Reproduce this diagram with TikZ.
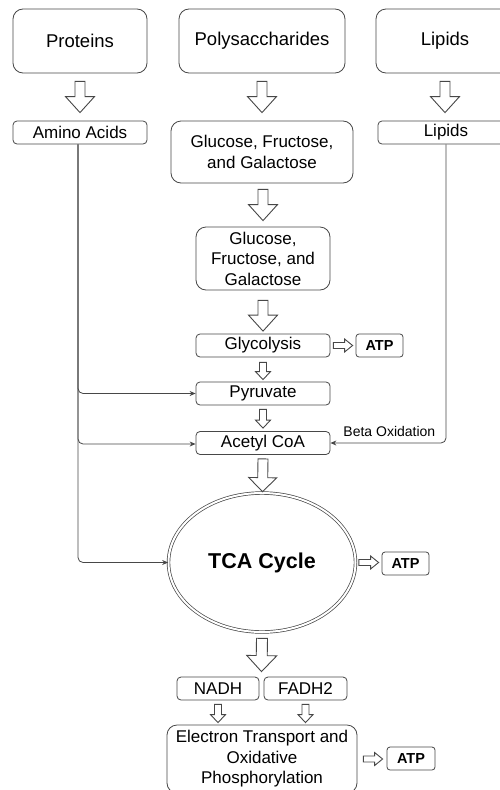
\documentclass[tikz,border=0pt]{standalone}
\usepackage{fontspec}
\setmainfont{Liberation Sans}
\usetikzlibrary{calc,arrows.meta,shapes.geometric}
\colorlet{linecol}{black!72}
\newcommand{\hollowarrow}[5]{%
  \path #1 coordinate (fa) #2 coordinate (fb);
  \coordinate (fh) at ($(fb)!#5!(fa)$);
  \draw[fatarrow] ($(fa)!#3!90:(fb)$) -- ($(fh)!#3!90:(fb)$) -- ($(fh)!#4!90:(fb)$) -- (fb)
    -- ($(fh)!#4!-90:(fb)$) -- ($(fh)!#3!-90:(fb)$) -- ($(fa)!#3!-90:(fb)$) -- cycle;}
\tikzset{
  base/.style={draw=linecol, line width=0.8pt, align=center, inner sep=0pt,
    font=\fontsize{17}{20.5}\selectfont},
  bigbox/.style={base, rounded corners=10pt},
  topbox/.style={bigbox, minimum height=64pt, font=\fontsize{18.5}{22}\selectfont},
  smallbox/.style={base, rounded corners=4pt, minimum height=23pt},
  atpbox/.style={base, rounded corners=3pt, minimum height=23pt, minimum width=47pt,
    font=\fontsize{14.5}{17}\selectfont\bfseries},
  fatarrow/.style={draw=linecol, line width=0.9pt, fill=white, line join=miter},
  conn/.style={draw=linecol, line width=0.8pt, rounded corners=5pt,
    -{Stealth[length=6pt,width=5pt]}},
}
\begin{document}
\begin{tikzpicture}[x=1pt,y=-1pt]
\useasboundingbox (0,0) rectangle (500,790);
\clip (0,0) rectangle (500,790);
% top row
\node[topbox, minimum width=134pt] (prot) at (80,41) {Proteins};
\node[topbox, minimum width=166pt] (poly) at (262,41) {Polysaccharides};
\node[topbox, minimum width=138pt] (lip1) at (445,41) {Lipids};
% second row
\node[smallbox, minimum width=134pt] (amino) at (80,132.5) {Amino Acids};
\node[bigbox, minimum width=182pt, minimum height=62pt] (glu1) at (262,152) {Glucose, Fructose,\\and Galactose};
\node[smallbox, minimum width=136pt] (lip2) at (446,132.5) {Lipids};
% central column
\node[bigbox, minimum width=134pt, minimum height=63pt] (glu2) at (263,258.5) {Glucose,\\Fructose, and\\Galactose};
\node[smallbox, minimum width=134pt] (gly) at (263,345.5) {Glycolysis};
\node[atpbox] (atp1) at (379.5,345.5) {ATP};
\node[smallbox, minimum width=134pt] (pyr) at (263,393.5) {Pyruvate};
\node[smallbox, minimum width=134pt] (acet) at (263,443) {Acetyl CoA};
\node[ellipse, draw=linecol, line width=0.7pt, double=white, double distance=2pt,
  minimum width=187pt, minimum height=139pt, inner sep=0pt,
  font=\fontsize{21.5}{25}\selectfont\bfseries] (tca) at (262,562.5) {TCA Cycle};
\node[atpbox] (atp2) at (405.5,563.5) {ATP};
\node[smallbox, minimum width=82pt] (nadh) at (218,688.5) {NADH};
\node[smallbox, minimum width=83pt] (fadh) at (305.5,688.5) {FADH2};
\node[bigbox, minimum width=190pt, minimum height=68pt] (etc) at (262,759) {Electron Transport and\\Oxidative\\Phosphorylation};
\node[atpbox, minimum width=48pt] (atp3) at (411,758.5) {ATP};
% hollow arrows (large)
\hollowarrow{([yshift=-8pt]prot.south)}{([yshift=8pt]amino.north)}{5pt}{14.5pt}{16pt}
\hollowarrow{([yshift=-8pt]poly.south)}{([yshift=8pt]glu1.north)}{5pt}{14.5pt}{16pt}
\hollowarrow{([yshift=-8pt]lip1.south)}{([yshift=8pt,xshift=-1pt]lip2.north)}{5pt}{14.5pt}{16pt}
\hollowarrow{([yshift=-6pt,xshift=1pt]glu1.south)}{([yshift=6pt]glu2.north)}{5pt}{14.5pt}{16pt}
\hollowarrow{([yshift=-10pt]glu2.south)}{([yshift=2.5pt]gly.north)}{5pt}{14.5pt}{16pt}
\hollowarrow{([yshift=-4pt]acet.south)}{([yshift=1pt,xshift=0.5pt]tca.north)}{5pt}{14pt}{14pt}
\hollowarrow{([yshift=-6pt]tca.south)}{($(nadh.north east)!0.5!(fadh.north west)+(0,-5)$)}{5.5pt}{15pt}{16pt}
% hollow arrows (small, down)
\hollowarrow{([yshift=-5pt]gly.south)}{([yshift=2pt]pyr.north)}{3.5pt}{7.5pt}{8pt}
\hollowarrow{([yshift=-4pt]pyr.south)}{([yshift=3pt]acet.north)}{3.5pt}{7.5pt}{8pt}
\hollowarrow{([yshift=-4pt]nadh.south)}{([yshift=2pt]nadh.south|-etc.north)}{3.5pt}{7.5pt}{8pt}
\hollowarrow{([yshift=-4pt]fadh.south)}{([yshift=2pt]fadh.south|-etc.north)}{3.5pt}{7.5pt}{8pt}
% hollow arrows (small, right)
\hollowarrow{([xshift=3pt]gly.east)}{([xshift=-3pt]atp1.west)}{3pt}{6.5pt}{8pt}
\hollowarrow{([xshift=3pt]tca.east)}{([xshift=-3pt]tca.east-|atp2.west)}{3pt}{6.5pt}{8pt}
\hollowarrow{([xshift=6pt]etc.east)}{([xshift=-4pt]etc.east-|atp3.west)}{3pt}{6.5pt}{8pt}
% thin connectors
\draw[conn] ([xshift=-2pt]amino.south) |- (pyr.west);
\draw[conn] ([xshift=-2pt]amino.south) |- ([yshift=-1pt]acet.west);
\draw[conn] ([xshift=-2pt]amino.south) |- (tca.west);
\draw[conn] (lip2.south) |- node[pos=0.745, anchor=base, yshift=6.5pt, inner sep=0pt,
  font=\fontsize{14}{16}\selectfont] (beta) {Beta Oxidation} (acet.east);
\end{tikzpicture}
\end{document}
